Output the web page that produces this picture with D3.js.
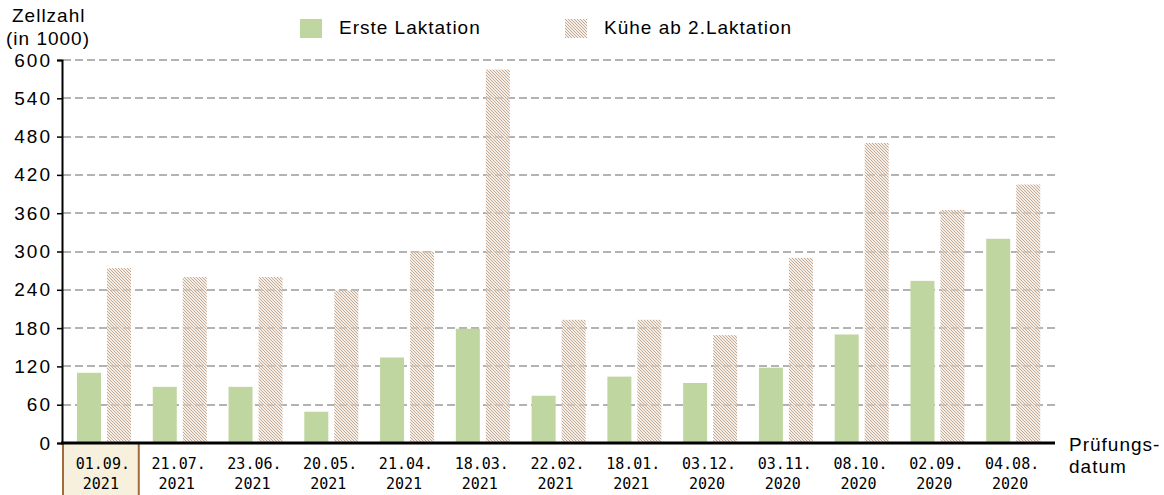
<!DOCTYPE html>
<html>
<head>
<meta charset="utf-8">
<script src="https://cdn.jsdelivr.net/npm/d3@7"></script>
<style>
  body { margin: 0; background: #fff; }
  text { font-family: "Liberation Sans", Arial, sans-serif; fill: #000; }
  .mono { font-family: "DejaVu Sans Mono", monospace; }
</style>
</head>
<body>
<div id="chart"></div>
<script>
// Prüfungsdatum, Zellzahl (in 1000)
var dates = ["01.09.|2021", "21.07.|2021", "23.06.|2021", "20.05.|2021", "21.04.|2021", "18.03.|2021",
             "22.02.|2021", "18.01.|2021", "03.12.|2020", "03.11.|2020", "08.10.|2020", "02.09.|2020", "04.08.|2020"];
var ersteLaktation = [110, 88, 88, 49, 134, 179, 74, 104, 94, 118, 170, 254, 320];
var abZweite       = [274, 260, 260, 239, 300, 585, 193, 193, 169, 290, 470, 365, 405];
var yTicks = [0, 60, 120, 180, 240, 300, 360, 420, 480, 540, 600];
var series = ["Erste Laktation", "Kühe ab 2.Laktation"];

var width = 1164, height = 495;
var svg = d3.select("#chart").append("svg")
    .attr("width", width)
    .attr("height", height)

var defs = svg.append("defs")
var pat = defs.append("pattern")
    .attr("id", "hatch")
    .attr("patternUnits", "userSpaceOnUse")
    .attr("width", 3).attr("height", 3)
pat.append("rect").attr("width", 3).attr("height", 3).attr("fill", "#ece2d8").attr("opacity", 0.6)
pat.append("path")
    .attr("d", "M-1,-1 L4,4 M-1,2 L1,4 M2,-1 L4,1")
    .attr("stroke", "#c4aa93")
    .attr("stroke-width", 1)

var x = d3.scaleBand()
    .domain(dates)
    .range([63, 1048])
var xs = d3.scaleBand()
    .domain(series)
    .range([14, 68])
    .paddingInner(0.2)
var y = d3.scaleLinear()
    .domain([0, 600])
    .range([443, 60])

// grid
svg.append("g")
  .selectAll("line")
  .data(yTicks.filter(function(d) { return d > 0; }))
  .enter().append("line")
    .attr("x1", 63).attr("x2", 1058)
    .attr("y1", function(d) { return Math.round(y(d)); })
    .attr("y2", function(d) { return Math.round(y(d)); })
    .attr("stroke", "#9a9a9a")
    .attr("stroke-width", 1.6)
    .attr("stroke-dasharray", "8,4")

// highlight box for first date
svg.append("rect")
    .attr("x", x(dates[0]))
    .attr("y", 443)
    .attr("width", x.bandwidth())
    .attr("height", 60)
    .attr("fill", "#f6f0dc")
    .attr("stroke", "#a36a3c")
    .attr("stroke-width", 2)

// bars
svg.append("g")
  .selectAll("rect")
  .data(dates)
  .enter().append("rect")
    .attr("x", function(d) { return x(d) + xs(series[0]); })
    .attr("y", function(d, i) { return y(ersteLaktation[i]); })
    .attr("width", xs.bandwidth())
    .attr("height", function(d, i) { return y(0) - y(ersteLaktation[i]); })
    .attr("fill", "#c0d6a0")

svg.append("g")
  .selectAll("rect")
  .data(dates)
  .enter().append("rect")
    .attr("x", function(d) { return x(d) + xs(series[1]); })
    .attr("y", function(d, i) { return y(abZweite[i]); })
    .attr("width", xs.bandwidth())
    .attr("height", function(d, i) { return y(0) - y(abZweite[i]); })
    .attr("fill", "url(#hatch)")

// y axis
var yAxis = svg.append("g")
    .attr("transform", "translate(62,0)")
    .call(d3.axisLeft(y).tickValues(yTicks).tickSize(5).tickPadding(5))
yAxis.select(".domain").attr("stroke", "#000").attr("stroke-width", 2)
yAxis.selectAll(".tick line").attr("stroke", "#000").attr("stroke-width", 1.5)
yAxis.selectAll(".tick text")
    .style("font-family", "'Liberation Sans', Arial, sans-serif")
    .style("font-size", "19px")
    .style("letter-spacing", "2px")
    .attr("fill", "#000")

// x axis line
svg.append("line")
    .attr("x1", 61).attr("x2", 1055)
    .attr("y1", 443).attr("y2", 443)
    .attr("stroke", "#000")
    .attr("stroke-width", 3)

// x labels
var xl = svg.append("g")
  .selectAll("text")
  .data(dates)
  .enter().append("text")
    .attr("class", "mono")
    .attr("text-anchor", "middle")
    .style("font-size", "15px")
    .attr("x", function(d) { return x(d) + x.bandwidth() / 2 + 2; })
    .attr("y", 469)
xl.append("tspan").text(function(d) { return d.split("|")[0]; })
xl.append("tspan")
    .attr("x", function(d) { return x(d) + x.bandwidth() / 2; })
    .attr("dy", 20)
    .text(function(d) { return d.split("|")[1]; })

// axis titles
svg.append("text").attr("x", 12).attr("y", 22)
    .style("font-size", "19px").style("letter-spacing", "1px").text("Zellzahl")
svg.append("text").attr("x", 6).attr("y", 45)
    .style("font-size", "19px").style("letter-spacing", "1px").text("(in 1000)")
svg.append("text").attr("x", 1069).attr("y", 451)
    .style("font-size", "19px").style("letter-spacing", "1px").text("Prüfungs-")
svg.append("text").attr("x", 1069).attr("y", 473)
    .style("font-size", "19px").style("letter-spacing", "1px").text("datum")

// legend
var legX = [300, 565];
var leg = svg.append("g")
  .selectAll("g")
  .data(series)
  .enter().append("g")
    .attr("transform", function(d, i) { return "translate(" + legX[i] + ",19)"; })
leg.append("rect")
    .attr("width", 22).attr("height", 19)
    .attr("fill", function(d, i) { return i == 0 ? "#c0d6a0" : "url(#hatch)"; })
leg.append("text")
    .attr("x", 39)
    .attr("y", 15)
    .style("font-size", "19px")
    .style("letter-spacing", "1px")
    .text(function(d) { return d; })
</script>
</body>
</html>
